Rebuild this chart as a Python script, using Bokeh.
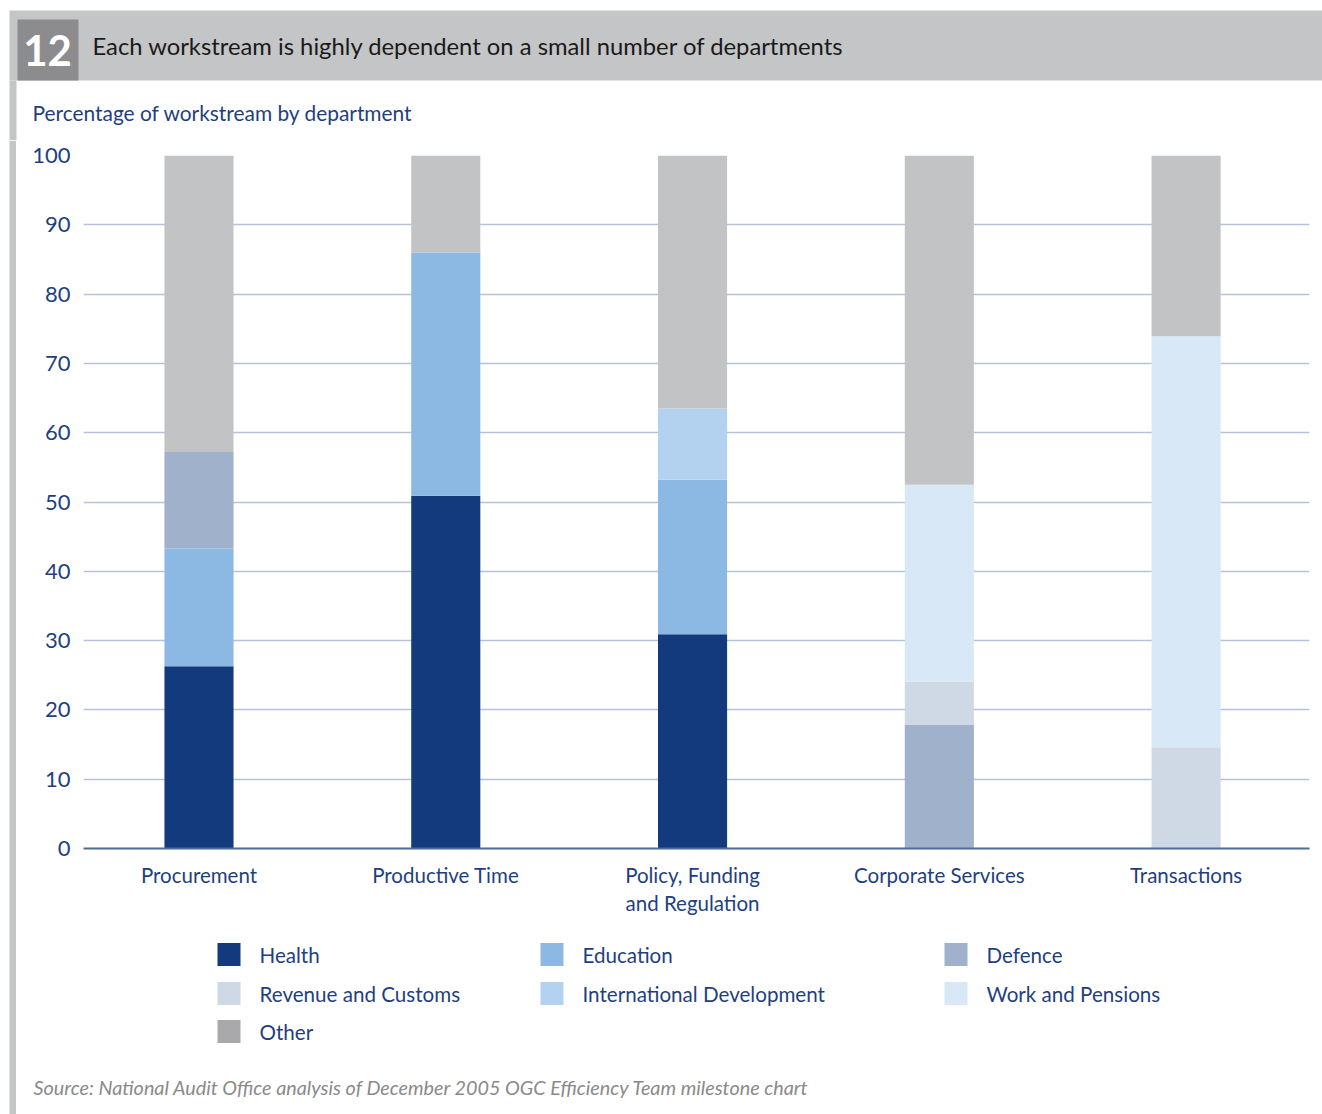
from bokeh.plotting import figure
from bokeh.layouts import column, row
from bokeh.models import Range1d, FixedTicker, ColumnDataSource
from bokeh.core.properties import value
from bokeh.embed import file_html
from bokeh.resources import INLINE

# ---------------- data ----------------
categories = ["Procurement", "Productive Time", "Policy, Funding\nand Regulation",
              "Corporate Services", "Transactions"]
departments = ["Health", "Education", "Defence", "Revenue and Customs",
               "International Development", "Work and Pensions", "Other"]
health = [26.3, 50.9, 30.9, 0, 0]
education = [17.0, 35.1, 22.3, 0, 0]
defence = [13.9, 0, 0, 17.9, 0]
revenue = [0, 0, 0, 6.2, 14.6]
intl_dev = [0, 0, 10.3, 0, 0]
work_pensions = [0, 0, 0, 28.4, 59.3]
other = [42.8, 14.0, 36.5, 47.5, 26.1]
y_ticks = [0, 10, 20, 30, 40, 50, 60, 70, 80, 90, 100]

title_text = "Each workstream is highly dependent on a small number of departments"
subtitle_text = "Percentage of workstream by department"
source_text = "Source: National Audit Office analysis of December 2005 OGC Efficiency Team milestone chart"

bar_colors = ["#133a7c", "#8cb9e4", "#a0b1cc", "#cfd9e5", "#b3d2f0", "#d9e8f7", "#c2c3c5"]
legend_colors = ["#133a7c", "#8cb9e4", "#a0b1cc", "#cfd9e5", "#b3d2f0", "#d9e8f7", "#a9a9ab"]

FONT = "Lato"
BLUE_TXT = "#1f3f80"
GREY_BAND = "#c4c5c7"

W, H = 1322, 1114
HEAD_H = 140          # header figure height (canvas rows 0..140)
STRIP_W = 16          # left grey strip figure width
BODY_W = W - STRIP_W
MAIN_H = 790          # canvas rows 140..930
LEG_H = H - HEAD_H - MAIN_H


def blank(fig):
    fig.outline_line_color = None
    fig.axis.visible = False
    fig.grid.visible = False
    fig.background_fill_color = "white"
    fig.border_fill_color = "white"
    fig.frame_align = False
    return fig


# ---------------- header ----------------
head = blank(figure(width=W, height=HEAD_H, output_backend="svg", toolbar_location=None,
                    x_range=Range1d(0, W), y_range=Range1d(HEAD_H, 0),
                    min_border=0))
head.quad(left=[9], right=[W], top=[10], bottom=[80], fill_color=GREY_BAND, line_alpha=0)
head.quad(left=[17], right=[78], top=[19], bottom=[80], fill_color="#8c8c8e", line_alpha=0)
head.quad(left=[9], right=[16], top=[80], bottom=[HEAD_H], fill_color=GREY_BAND, line_alpha=0)
head.text(x=[47], y=[50], text=["12"], text_font=value(FONT), text_font_size="42px",
          text_font_style="bold", text_color="white", text_align="center", text_baseline="middle")
head.text(x=[92], y=[45], text=[title_text], text_font=value(FONT), text_font_size="23.8px",
          text_color="#1a1a1a", text_align="left", text_baseline="middle")
head.text(x=[32], y=[112], text=[subtitle_text], text_font=value(FONT), text_font_size="20.9px",
          text_color=BLUE_TXT, text_align="left", text_baseline="middle")

# ---------------- left strip ----------------
strip = blank(figure(width=STRIP_W, height=H - HEAD_H, output_backend="svg", toolbar_location=None,
                     x_range=Range1d(0, STRIP_W), y_range=Range1d(0, 1), min_border=0))
strip.quad(left=[9], right=[16], top=[1], bottom=[0], fill_color=GREY_BAND, line_alpha=0)

# ---------------- main chart ----------------
keys = ["health", "education", "defence", "revenue", "intl_dev", "work_pensions", "other"]
src = ColumnDataSource(dict(x=list(range(len(categories))), health=health, education=education,
                            defence=defence, revenue=revenue, intl_dev=intl_dev,
                            work_pensions=work_pensions, other=other))

p = figure(width=BODY_W, height=MAIN_H, output_backend="svg", toolbar_location=None,
           x_range=Range1d(-0.468, 4.5), y_range=Range1d(0, 100),
           min_border_left=83 - STRIP_W, min_border_right=W - 1309,
           min_border_top=155 - HEAD_H, min_border_bottom=HEAD_H + MAIN_H - 848)
p.outline_line_color = None
p.background_fill_color = "white"
p.border_fill_color = "white"
p.frame_align = False

p.vbar_stack(keys, x="x", width=0.28, source=src, fill_color=bar_colors, line_alpha=0)

p.yaxis.ticker = FixedTicker(ticks=y_ticks)
p.yaxis.axis_line_color = None
p.yaxis.major_tick_line_color = None
p.yaxis.minor_tick_line_color = None
p.yaxis.major_label_text_font = FONT
p.yaxis.major_label_text_font_size = "22px"
p.yaxis.major_label_text_color = BLUE_TXT
p.yaxis.major_label_standoff = 7

p.xaxis.ticker = FixedTicker(ticks=list(range(len(categories))))
p.xaxis.major_label_overrides = {i: c for i, c in enumerate(categories)}
p.xaxis.axis_line_color = "#4d6b9c"
p.xaxis.axis_line_width = 2
p.xaxis.major_tick_line_color = None
p.xaxis.minor_tick_line_color = None
p.xaxis.major_label_text_font = FONT
p.xaxis.major_label_text_font_size = "20.5px"
p.xaxis.major_label_text_color = BLUE_TXT
p.xaxis.major_label_standoff = 8

p.xgrid.visible = False
p.ygrid.ticker = FixedTicker(ticks=y_ticks)
p.ygrid.grid_line_color = "#b5c3da"
p.ygrid.grid_line_width = 1.5

# ---------------- legend + source ----------------
top_y = HEAD_H + MAIN_H
leg = blank(figure(width=BODY_W, height=LEG_H, output_backend="svg", toolbar_location=None,
                   x_range=Range1d(STRIP_W, W), y_range=Range1d(H, top_y), min_border=0))
col_x = [217, 540, 944]
row_y = [954, 993, 1031]
sw_l, sw_r, sw_t, sw_b, tx, ty = [], [], [], [], [], []
for i in range(len(departments)):
    r, c = divmod(i, 3)
    sw_l.append(col_x[c])
    sw_r.append(col_x[c] + 23)
    sw_t.append(row_y[r] - 11.5)
    sw_b.append(row_y[r] + 11.5)
    tx.append(col_x[c] + 42)
    ty.append(row_y[r])
leg.quad(left=sw_l, right=sw_r, top=sw_t, bottom=sw_b, fill_color=legend_colors, line_alpha=0)
leg.text(x=tx, y=ty, text=departments, text_font=value(FONT), text_font_size="20.6px",
         text_color=BLUE_TXT, text_align="left", text_baseline="middle")
leg.text(x=[33], y=[1086], text=[source_text], text_font=value(FONT), text_font_size="19.8px",
         text_font_style="italic", text_color="#8a8a8a", text_align="left", text_baseline="middle")

layout = column(head, row(strip, column(p, leg)))
open("out.html", "w").write(file_html(layout, INLINE))
